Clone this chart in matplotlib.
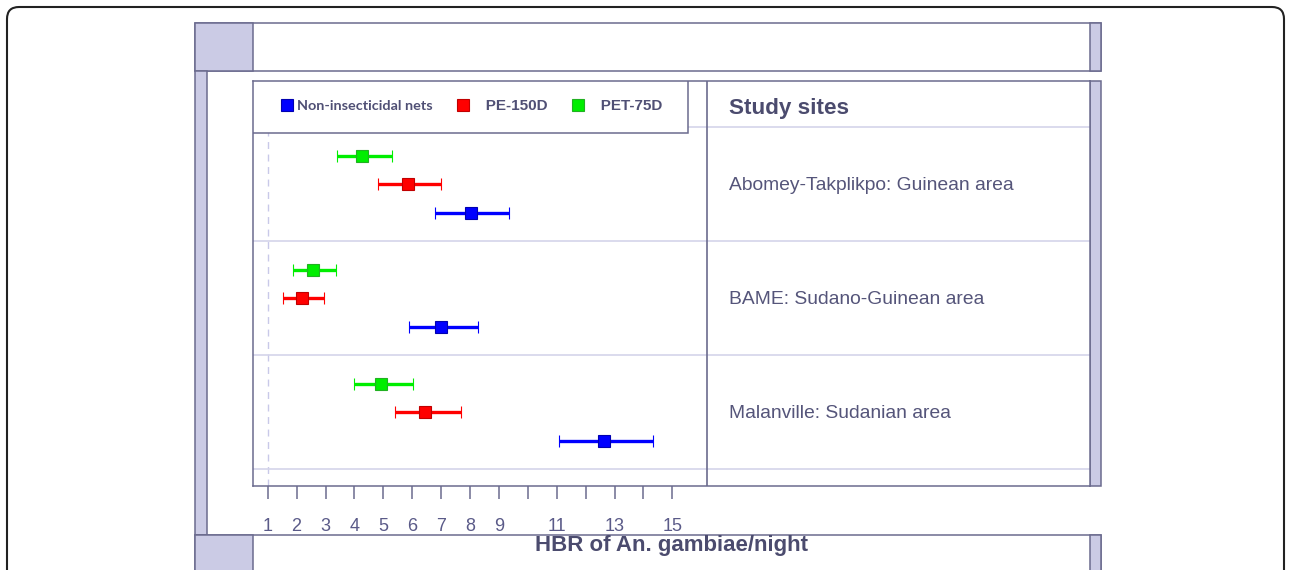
# -*- coding: utf-8 -*-
'''
Forest plot of human biting rate (HBR) of An. gambiae per night by study site
'''

import matplotlib
matplotlib.use('Agg')
import matplotlib.pyplot as plt
from matplotlib.patches import Rectangle, FancyBboxPatch
from matplotlib.lines import Line2D

# data
sites = ['Abomey-Takplikpo: Guinean area',
         'BAME: Sudano-Guinean area',
         'Malanville: Sudanian area']
series = ['PET-75D', 'PE-150D', 'Non-insecticidal nets']   # top to bottom inside each site
pet_mean = [4.26, 2.58, 4.91]
pet_low = [3.40, 1.89, 3.99]
pet_high = [5.30, 3.36, 6.04]
pe_mean = [5.85, 2.18, 6.44]
pe_low = [4.82, 1.54, 5.40]
pe_high = [6.99, 2.96, 7.68]
non_mean = [8.03, 7.00, 12.64]
non_low = [6.78, 5.90, 11.08]
non_high = [9.35, 8.29, 14.34]
xticks = list(range(1, 16))
xtick_labels = ['1', '2', '3', '4', '5', '6', '7', '8', '9', '', '11', '', '13', '', '15']

# styles
FRAME = '#6b6b8e'
SHADE = '#cbcbe5'
LIGHT = '#d4d4ea'
TEXT = '#4b4b6e'
TICKTXT = '#5a5a88'
colors = {'PET-75D': ('#00ee00', '#22b022'),
          'PE-150D': ('#ff0000', '#c00000'),
          'Non-insecticidal nets': ('#0000ff', '#0000b0')}

fig = plt.figure(figsize=(12.9, 5.7), dpi=100)

# decorative frame drawn in pixel units
bg = fig.add_axes([0, 0, 1, 1])
bg.set_xlim(0, 1290)
bg.set_ylim(570, 0)
bg.axis('off')
bg.add_patch(FancyBboxPatch((7, 7), 1277, 620, boxstyle='round,pad=0,rounding_size=12',
                            fc='white', ec='#222222', lw=1.5))
for (x, y, w, h, fc) in [(195, 23, 906, 48, 'white'), (195, 23, 58, 48, SHADE),
                         (1090, 23, 11, 48, SHADE), (195, 71, 11.5, 464, SHADE),
                         (1090, 81, 11, 405, SHADE), (195, 535, 906, 100, 'white'),
                         (195, 535, 58, 100, SHADE), (1090, 535, 11, 100, SHADE)]:
    bg.add_patch(Rectangle((x, y), w, h, fc=fc, ec=FRAME, lw=1.1))

# main forest plot panel
ax = fig.add_axes([253 / 1290, (570 - 486) / 570, 837 / 1290, 405 / 570])
ax.set_xlim(0.491, 29.45)
header = 1.62
ax.set_ylim(header + 4 * 3 + 0.59, 0)

ax.axvline(1, color='#c9c9e9', ls=(0, (5, 4)), lw=1, zorder=0.5)
for i in range(4):
    ax.axhline(header + 4 * i, color=LIGHT, lw=1.2, zorder=0.6)
ax.axvline(16.2, color=FRAME, lw=1.2, zorder=0.7)

values = {'PET-75D': (pet_mean, pet_low, pet_high),
          'PE-150D': (pe_mean, pe_low, pe_high),
          'Non-insecticidal nets': (non_mean, non_low, non_high)}
for j, name in enumerate(series):
    m, lo, hi = values[name]
    ys = [header + 1 + 4 * i + j for i in range(len(sites))]
    fc, ec = colors[name]
    ax.errorbar(m, ys, xerr=[[a - b for a, b in zip(m, lo)], [b - a for a, b in zip(m, hi)]],
                fmt='s', color=fc, ecolor=fc, ms=8, mec=ec, mew=0.8,
                elinewidth=2.4, capsize=4.2, capthick=3, zorder=3)

ax.text(16.96, 0.95, 'Study sites', fontsize=16.2, fontweight='bold',
        family='Liberation Sans', color=TEXT, va='center')
for i, s in enumerate(sites):
    ax.text(16.96, header + 2.03 + 4 * i, s, fontsize=13.9, family='Liberation Sans',
            color='#55557a', va='center')

# legend box on top of the header
ax.add_patch(Rectangle((0, 0.8716), 0.5197, 0.1284, transform=ax.transAxes,
                       fc='white', ec=FRAME, lw=1.1, zorder=4))
handles = [Line2D([], [], marker='s', ls='None', ms=8, mfc=colors[n][0], mec=colors[n][1], mew=0.8)
           for n in ['Non-insecticidal nets', 'PE-150D', 'PET-75D']]
leg = ax.legend(handles, ['Non-insecticidal nets', '   PE-150D', '   PET-75D'], ncol=3,
                loc='center left', bbox_to_anchor=(0.0335, 0.938), frameon=False,
                borderpad=0, borderaxespad=0, handlelength=0.8, handletextpad=0.25,
                columnspacing=1.6,
                prop={'family': 'Liberation Sans', 'weight': 'bold', 'size': 11})
leg.set_zorder(5)
texts = leg.get_texts()
texts[0].set_fontfamily('Lato')
texts[0].set_fontsize(10.4)
for t in texts:
    t.set_color('#505075')

ax.set_xticks(xticks)
ax.set_xticklabels(xtick_labels, family='Liberation Sans', fontsize=13, color=TICKTXT)
ax.set_yticks([])
ax.tick_params(axis='x', length=9, width=1.1, color=FRAME, pad=14, direction='out')
for sp in ax.spines.values():
    sp.set_color(FRAME)
    sp.set_linewidth(1.1)
ax.set_xlabel('HBR of An. gambiae/night', fontsize=16, fontweight='bold',
              family='Liberation Sans', color=TEXT, labelpad=0)

fig.savefig('out.png', dpi=100)
